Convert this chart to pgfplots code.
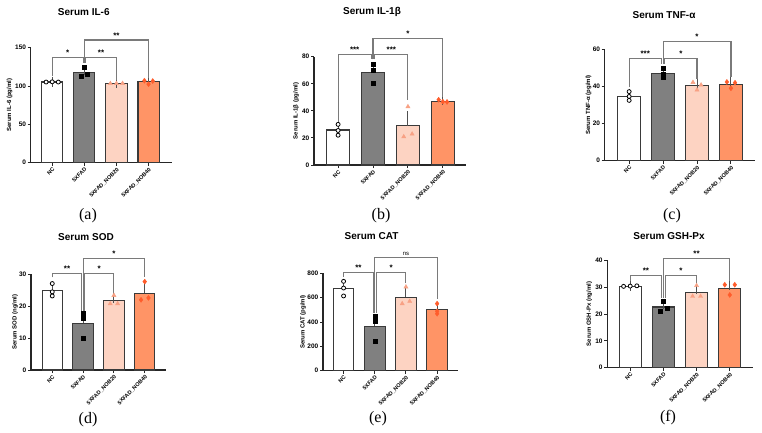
\documentclass[border=0pt]{standalone}
\usepackage{fontspec}
\setmainfont{Liberation Sans}
\newfontfamily\serifrm{Liberation Serif}
\usepackage{pgfplots}
\pgfplotsset{compat=1.18}

\definecolor{axisc}{HTML}{262626}
\definecolor{barc}{HTML}{3A3A3A}
\definecolor{errc}{HTML}{505050}
\definecolor{adfill}{HTML}{808080}
\definecolor{nlfill}{HTML}{FDD3C2}
\definecolor{nhfill}{HTML}{FF9466}
\definecolor{nlpt}{HTML}{F8A184}
\definecolor{nhpt}{HTML}{FF5C2B}
\definecolor{brc}{HTML}{7A7A7A}

\pgfplotsset{
  prism/.style={
    scale only axis, clip=false, anchor=south west,
    axis x line*=bottom, axis y line*=left,
    axis line style={-, line width=1.3pt, color=axisc},
    tick align=outside, major tick length=3pt,
    tick style={line width=1pt, color=axisc},
    xtick={0,1,2,3},
    xticklabels={NC,5XFAD,5XFAD\_NOB20,5XFAD\_NOB40},
    xticklabel style={rotate=45, anchor=north east, inner sep=1pt,
      font=\fontsize{5.5}{6}\selectfont\bfseries},
    yticklabel style={inner sep=1.5pt, font=\fontsize{6.5}{7}\selectfont\bfseries},
    /pgf/number format/assume math mode=true,
    ymin=0,
    every axis y label/.style={at={(axis description cs:0,0.5)}, rotate=90,
      anchor=south, inner sep=0pt, font=\fontsize{6}{7}\selectfont\bfseries},
  },
  barplot/.style={ybar, bar width=0.66, bar shift=0pt, draw=barc,
    line width=1.1pt, fill=#1,
    /pgfplots/error bars/y dir=plus, /pgfplots/error bars/y explicit,
    /pgfplots/error bars/error bar style={line width=1pt, color=errc},
    /pgfplots/error bars/error mark options={line width=1pt, color=errc, mark size=5pt}},
}

% group means with SEM (upper error bar only)
\newcommand{\bars}[8]{%
  \addplot[barplot=white]  coordinates {(0,#1) +- (0,#2)};
  \addplot[barplot=adfill] coordinates {(1,#3) +- (0,#4)};
  \addplot[barplot=nlfill] coordinates {(2,#5) +- (0,#6)};
  \addplot[barplot=nhfill] coordinates {(3,#7) +- (0,#8)};
}
% individual animals
\newcommand{\pts}[4]{%
  \addplot[only marks, mark=*, mark size=2pt,
    mark options={draw=black, fill=white, line width=0.8pt}] coordinates {#1};
  \addplot[only marks, mark=square*, mark size=2pt,
    mark options={draw=black, fill=black}] coordinates {#2};
  \addplot[only marks, mark=triangle*, mark size=2.4pt,
    mark options={draw=nlpt, fill=nlpt}] coordinates {#3};
  \addplot[only marks, mark=diamond*, mark size=2.5pt,
    mark options={draw=nhpt, fill=nhpt}] coordinates {#4};
}
% significance bracket: x1, x2, label x, top, left foot, right foot, label
\newcommand{\sig}[7]{%
  \draw[brc, line width=1.1pt] (axis cs:#1,#5) |- (axis cs:#2,#4) -- (axis cs:#2,#6);
  \node[anchor=south, inner sep=0pt, yshift=1.5pt,
    font=\fontsize{8}{8}\selectfont\bfseries] at (axis cs:#3,#4) {#7};
}

\begin{document}
\begin{tikzpicture}
\fill[white] (0,0) rectangle (762pt,432pt);
\useasboundingbox (0,0) rectangle (762pt,432pt);

% (a) IL-6
\begin{axis}[prism, at={(30.7pt,269.3pt)}, width=141pt, height=115pt,
  xmin=-0.67, xmax=3.72, ymax=150, ytick={0,50,100,150},
  ylabel={Serum IL-6 (pg/ml)}, ylabel style={yshift=18pt}]
  \bars{105.3}{0.1}{117.27}{3.51}{103.43}{0.07}{105.33}{1.42}
  \pts{(-0.19,105.2) (0,105.5) (0.19,105.2)}
      {(0.9,112.2) (1,124.0) (1.1,115.6)}
      {(1.81,103.3) (2,103.5) (2.19,103.5)}
      {(2.87,107.0) (3,102.5) (3.13,106.5)}
  \sig{0}{0.96}{0.48}{137}{113}{130}{*}
  \sig{1.05}{2}{1.52}{137}{130}{108}{**}
  \sig{1.0}{3}{2.0}{160}{130}{111}{**}
\end{axis}

% (b) IL-1beta
\begin{axis}[prism, at={(314pt,267pt)}, width=151.9pt, height=108.3pt,
  xmin=-0.69, xmax=3.66, ymax=80, ytick={0,20,40,60,80},
  ylabel={Serum IL-1β (pg/ml)}, ylabel style={yshift=15pt}]
  \bars{25.83}{2.32}{68.5}{4.01}{28.97}{7.09}{47.2}{0.5}
  \pts{(0,30.0) (0,25.5) (0,22.0)}
      {(1,74.3) (1,70.4) (1,60.8)}
      {(1.88,20.9) (2,43.1) (2.12,22.9)}
      {(2.88,48.2) (3,46.8) (3.12,46.6)}
  \sig{0}{0.95}{0.475}{81.7}{32}{78}{***}
  \sig{1.05}{2}{1.525}{81.7}{78}{48}{***}
  \sig{1.0}{3}{2.0}{93.5}{78}{50.5}{*}
\end{axis}

% (c) TNF-alpha
\begin{axis}[prism, at={(604.7pt,271.3pt)}, width=150pt, height=111.4pt,
  xmin=-0.72, xmax=3.70, ymax=60, ytick={0,20,40,60},
  ylabel={Serum TNF-α (pg/ml)}, ylabel style={yshift=13pt}]
  \bars{34.77}{1.36}{47.07}{1.37}{40.37}{1.20}{41.13}{1.07}
  \pts{(0,37.2) (0,34.6) (0,32.5)}
      {(1,49.6) (1,46.7) (1,44.9)}
      {(1.88,42.2) (2,38.1) (2.12,40.8)}
      {(2.88,42.4) (3,39.0) (3.12,42.0)}
  \sig{0}{0.95}{0.475}{55}{39.5}{52}{***}
  \sig{1.05}{2}{1.525}{55}{52}{44}{*}
  \sig{1.0}{3}{2.0}{64.1}{52}{44.9}{*}
\end{axis}

% (d) SOD
\begin{axis}[prism, at={(31pt,62pt)}, width=134.7pt, height=95.7pt,
  xmin=-0.69, xmax=3.68, ymax=30, ytick={0,10,20,30},
  ylabel={Serum SOD (ng/ml)}, ylabel style={yshift=13pt}]
  \bars{24.93}{1.15}{14.63}{2.40}{21.67}{0.87}{24.1}{1.81}
  \pts{(0,27.1) (0,24.5) (0,23.2)}
      {(1,17.7) (1,16.3) (1,9.9)}
      {(1.88,20.8) (2,23.4) (2.12,20.8)}
      {(2.88,22.0) (3,27.7) (3.12,22.6)}
  \sig{0}{0.96}{0.48}{30.3}{29.0}{18.5}{**}
  \sig{1.05}{2}{1.525}{30.3}{18.5}{24.0}{*}
  \sig{1.0}{3}{2.0}{35}{18.5}{29}{*}
\end{axis}

% (e) CAT
\begin{axis}[prism, at={(323pt,61.3pt)}, width=135pt, height=97.4pt,
  xmin=-0.66, xmax=3.67, ymax=800, ytick={0,200,400,600,800},
  ylabel={Serum CAT (pg/ml)}, ylabel style={yshift=17pt}]
  \bars{675.67}{34.68}{365}{63.29}{603}{42.85}{502.33}{25.0}
  \pts{(0,734) (0,679) (0,614)}
      {(1,449) (1,405) (1,241)}
      {(1.88,551) (2,688) (2.12,570)}
      {(3,551) (3,488) (3,468)}
  \sig{0}{0.95}{0.475}{805}{773}{477}{**}
  \sig{1.05}{2}{1.525}{805}{477}{723}{*}
  \sig{1.0}{3}{2.0}{929}{477}{586}{\fontsize{6}{6}\selectfont\mdseries ns}
\end{axis}

% (f) GSH-Px
\begin{axis}[prism, at={(607.3pt,64.3pt)}, width=145.7pt, height=107.4pt,
  xmin=-0.69, xmax=3.70, ymax=40, ytick={0,10,20,30,40},
  ylabel={Serum GSH-Px (ng/ml)}, ylabel style={yshift=15pt}]
  \bars{30.4}{0.06}{22.6}{1.08}{27.93}{1.33}{29.63}{1.27}
  \pts{(-0.2,30.3) (0,30.4) (0.2,30.5)}
      {(0.9,21.1) (1,24.7) (1.1,22.0)}
      {(1.88,26.6) (2,30.6) (2.12,26.6)}
      {(2.85,30.9) (3,27.1) (3.15,30.9)}
  \sig{0}{0.95}{0.475}{34.4}{32.3}{26.1}{**}
  \sig{1.05}{2}{1.525}{34.4}{26.1}{31.3}{*}
  \sig{1.0}{3}{2.0}{40.7}{26.1}{32.3}{**}
\end{axis}

% panel titles
\begin{scope}[every node/.style={font=\fontsize{10}{12}\selectfont\bfseries}]
  \node at (83.8pt,419.7pt) {Serum IL-6};
  \node at (372pt,419.7pt) {Serum IL-1β};
  \node at (664pt,417pt) {Serum TNF-α};
  \node at (86pt,195pt) {Serum SOD};
  \node at (371.5pt,196pt) {Serum CAT};
  \node at (669pt,196pt) {Serum GSH-Px};
\end{scope}

% panel letters
\begin{scope}[every node/.style={font=\serifrm\fontsize{16}{18}\selectfont}]
  \node at (88pt,216.5pt) {(a)};
  \node at (381pt,216.5pt) {(b)};
  \node at (672pt,216.5pt) {(c)};
  \node at (88pt,12.5pt) {(d)};
  \node at (378pt,13.3pt) {(e)};
  \node at (668pt,14pt) {(f)};
\end{scope}
\end{tikzpicture}
\end{document}
